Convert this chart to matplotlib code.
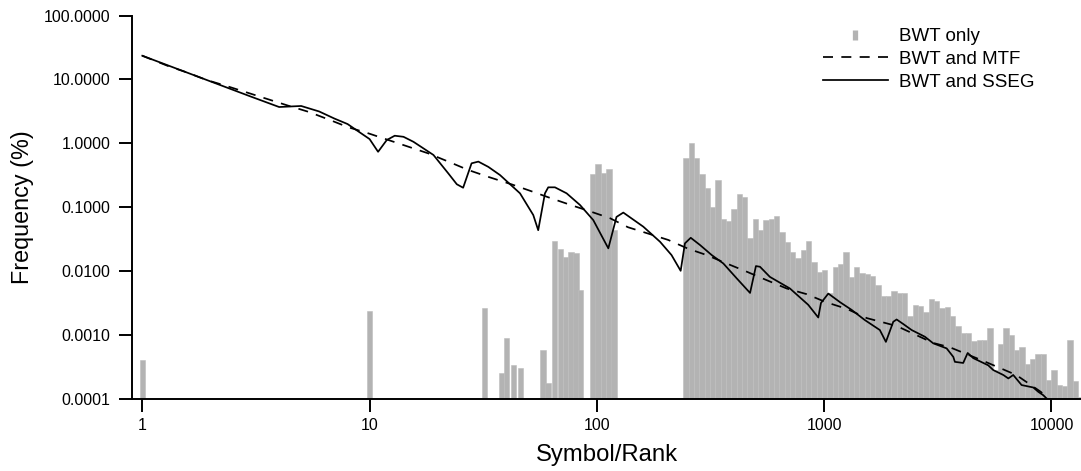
import numpy as np
import matplotlib
matplotlib.use("Agg")
import matplotlib.pyplot as plt
from matplotlib.lines import Line2D

plt.rcParams['font.family'] = ['Liberation Sans', 'DejaVu Sans']
plt.rcParams['lines.scale_dashes'] = False

# ---------------- data ----------------
bwt_rank = [1, 10, 32, 38, 40, 43, 46, 58, 61, 65, 69, 73, 77, 81, 85,
            96, 101, 107, 113, 119,
            247, 260, 275, 290, 306, 323, 341, 360, 380, 401,
            423, 447, 472, 498, 525, 555, 585, 618, 652, 688,
            726, 767, 809, 854, 902, 952, 1005, 1060, 1119, 1181,
            1247, 1316, 1389, 1466, 1548, 1634, 1724, 1820, 1921, 2027,
            2140, 2259, 2384, 2517, 2656, 2804, 2960, 3124, 3297, 3480,
            3673, 3878, 4093, 4320, 4560, 4813, 5081, 5362, 5661, 5974,
            6306, 6657, 7026, 7413, 7824, 8259, 8718, 9201, 9713, 10251,
            10821, 11423, 12055, 12726, 13430]
bwt_freq = [0.00041, 0.00237, 0.0027, 0.000257, 0.000895, 0.000343, 0.000308,
            0.000587, 0.000179, 0.0298, 0.0221, 0.0169, 0.0200, 0.0191, 0.0051,
            0.329, 0.471, 0.348, 0.398, 0.045,
            0.585, 1.03, 0.597, 0.329, 0.199, 0.100, 0.268, 0.065, 0.0612, 0.0933,
            0.160, 0.147, 0.0328, 0.065, 0.0443, 0.0634, 0.0664, 0.0732, 0.0416, 0.0290,
            0.0203, 0.0160, 0.0215, 0.0301, 0.0138, 0.0099, 0.0105, 0.0046, 0.0116, 0.0130,
            0.0200, 0.0082, 0.0118, 0.0095, 0.0091, 0.0084, 0.0061, 0.0041, 0.0041, 0.0050,
            0.0046, 0.0046, 0.0020, 0.0030, 0.0029, 0.0023, 0.0037, 0.0034, 0.0027, 0.0028,
            0.0020, 0.0014, 0.0011, 0.0011, 0.00082, 0.00084, 0.00086, 0.00129, 0.00029, 0.00073,
            0.00129, 0.00101, 0.00059, 0.00065, 0.00036, 0.00042, 0.00051, 0.00051, 0.00020, 0.00029,
            0.00017, 0.00016, 0.00084, 0.00019, 0.00011]

mtf_rank = [1, 1.3, 1.57, 1.92, 2.35, 3.58, 4.39, 5.37, 6.58, 8.06, 9.87,
            14.8, 18.1, 22.2, 27.2, 33.3, 42.2, 50.8, 63.2, 76.2, 93.3,
            114, 137, 168, 206, 252, 304, 372, 456, 558, 684, 838,
            1018, 1256, 1540, 2084, 3020, 3575, 5000, 7000, 9000, 9600]
mtf_freq = [23.5, 16.2, 12.9, 9.8, 7.9, 4.9, 3.89, 3.13, 2.38, 1.79, 1.44,
            0.89, 0.70, 0.52, 0.384, 0.30, 0.229, 0.182, 0.138, 0.110, 0.0867,
            0.068, 0.049, 0.039, 0.031, 0.0226, 0.018, 0.0133, 0.0099, 0.0073, 0.0054, 0.0044,
            0.0033, 0.0026, 0.00186, 0.0014, 0.00076, 0.00065, 0.0004, 0.00024, 0.00013, 0.0001]

sseg_rank = [1, 2, 3, 4, 5, 6, 7, 8, 9, 10, 10.9, 11.9, 12.9, 14.1, 15.6,
             19.1, 22.2, 24.2, 25.8, 28.1, 30.1, 33.3, 37.5, 45.9, 52.5, 55.2,
             59.1, 61.1, 65.4, 73.6, 84.3, 96.4, 112.3, 122, 130.7, 160, 189.7,
             213, 233.7, 244, 258.8, 284.4, 320, 360, 412, 472, 501, 522, 577,
             707, 851, 942, 968, 1043, 1174, 1321, 1511, 1758, 1869, 2014, 2084,
             2230, 2426, 2775, 3020, 3459, 3700, 3760, 4090, 4280, 4530, 5270,
             5550, 6140, 6460, 6790, 7390, 8320, 8750, 9200, 9525]
sseg_freq = [23.5, 9.3, 5.41, 3.71, 3.85, 3.16, 2.45, 2.01, 1.51, 1.17, 0.74, 1.13, 1.32, 1.27, 1.06,
             0.66, 0.34, 0.23, 0.203, 0.489, 0.52, 0.43, 0.32, 0.166, 0.076, 0.044,
             0.166, 0.206, 0.206, 0.166, 0.109, 0.0634, 0.0229, 0.071, 0.083, 0.050, 0.029,
             0.018, 0.0102, 0.0274, 0.0335, 0.0258, 0.018, 0.0133, 0.0078, 0.0046, 0.0121, 0.0118, 0.0082,
             0.0054, 0.0030, 0.0019, 0.0032, 0.0045, 0.0033, 0.0025, 0.00173, 0.00121, 0.00079, 0.00163, 0.00177,
             0.0015, 0.00121, 0.00095, 0.00075, 0.000625, 0.00046, 0.000385, 0.00037, 0.00053, 0.00044, 0.00034,
             0.000286, 0.00024, 0.000212, 0.00024, 0.000167, 0.000153, 0.000131, 0.000116, 0.000103]

y_ticks = [0.0001, 0.001, 0.01, 0.1, 1, 10, 100]
y_tick_labels = ["0.0001", "0.0010", "0.0100", "0.1000", "1.0000", "10.0000", "100.0000"]
x_ticks = [1, 10, 100, 1000, 10000]
x_tick_labels = ["1", "10", "100", "1000", "10000"]

# ---------------- figure ----------------
W, H = 1081, 471
fig = plt.figure(figsize=(W / 100, H / 100), dpi=100)
ax = fig.add_axes([132 / W, (H - 399.3) / H, (W - 132) / W, (399.3 - 15.5) / H])

ax.set_xscale('log')
ax.set_yscale('log')
ax.set_xlim(0.901, 13490)
ax.set_ylim(1e-4, 100)

bar_dec = 0.0235
ranks = np.array(bwt_rank, dtype=float)
left = ranks * 10 ** (-bar_dec / 2)
right = ranks * 10 ** (bar_dec / 2)
bar_color = '#B3B3B3'
ax.bar(left, np.array(bwt_freq) - 1e-4, width=right - left, bottom=1e-4, align='edge',
       color=bar_color, edgecolor='#BDBDBD', linewidth=0.4, zorder=1)

LW = 1.25
DASH = (7.2, 6.0)
ax.plot(mtf_rank, mtf_freq, color='black', lw=LW, dashes=DASH, zorder=3)
ax.plot(sseg_rank, sseg_freq, color='black', lw=LW, zorder=4)

for s in ['top', 'right']:
    ax.spines[s].set_visible(False)
for s in ['left', 'bottom']:
    ax.spines[s].set_linewidth(1.4)
    ax.spines[s].set_zorder(5)

ax.set_yticks(y_ticks)
ax.set_yticklabels(y_tick_labels)
ax.set_xticks(x_ticks)
ax.set_xticklabels(x_tick_labels)
ax.minorticks_off()
ax.tick_params(axis='both', which='major', length=9.5, width=1.4, labelsize=11.5, color='black')
ax.tick_params(axis='y', pad=6)
ax.tick_params(axis='x', pad=4)

ax.set_xlabel('Symbol/Rank', fontsize=17.2, labelpad=8)
ax.set_ylabel('Frequency (%)', fontsize=16.8, labelpad=7)

handles = [
    Line2D([], [], color=bar_color, marker='|', markersize=7.7, markeredgewidth=3.8, linestyle='None'),
    Line2D([], [], color='black', lw=LW, dashes=DASH),
    Line2D([], [], color='black', lw=LW),
]
labels = ['BWT only', 'BWT and MTF', 'BWT and SSEG']
leg = fig.legend(handles, labels, loc='upper left', bbox_to_anchor=(823 / W, 1 - 28 / H),
                 frameon=False, fontsize=13.5, handlelength=3.45, handletextpad=0.58,
                 labelspacing=0.3, borderpad=0, borderaxespad=0)

fig.savefig('out.png', dpi=100)
